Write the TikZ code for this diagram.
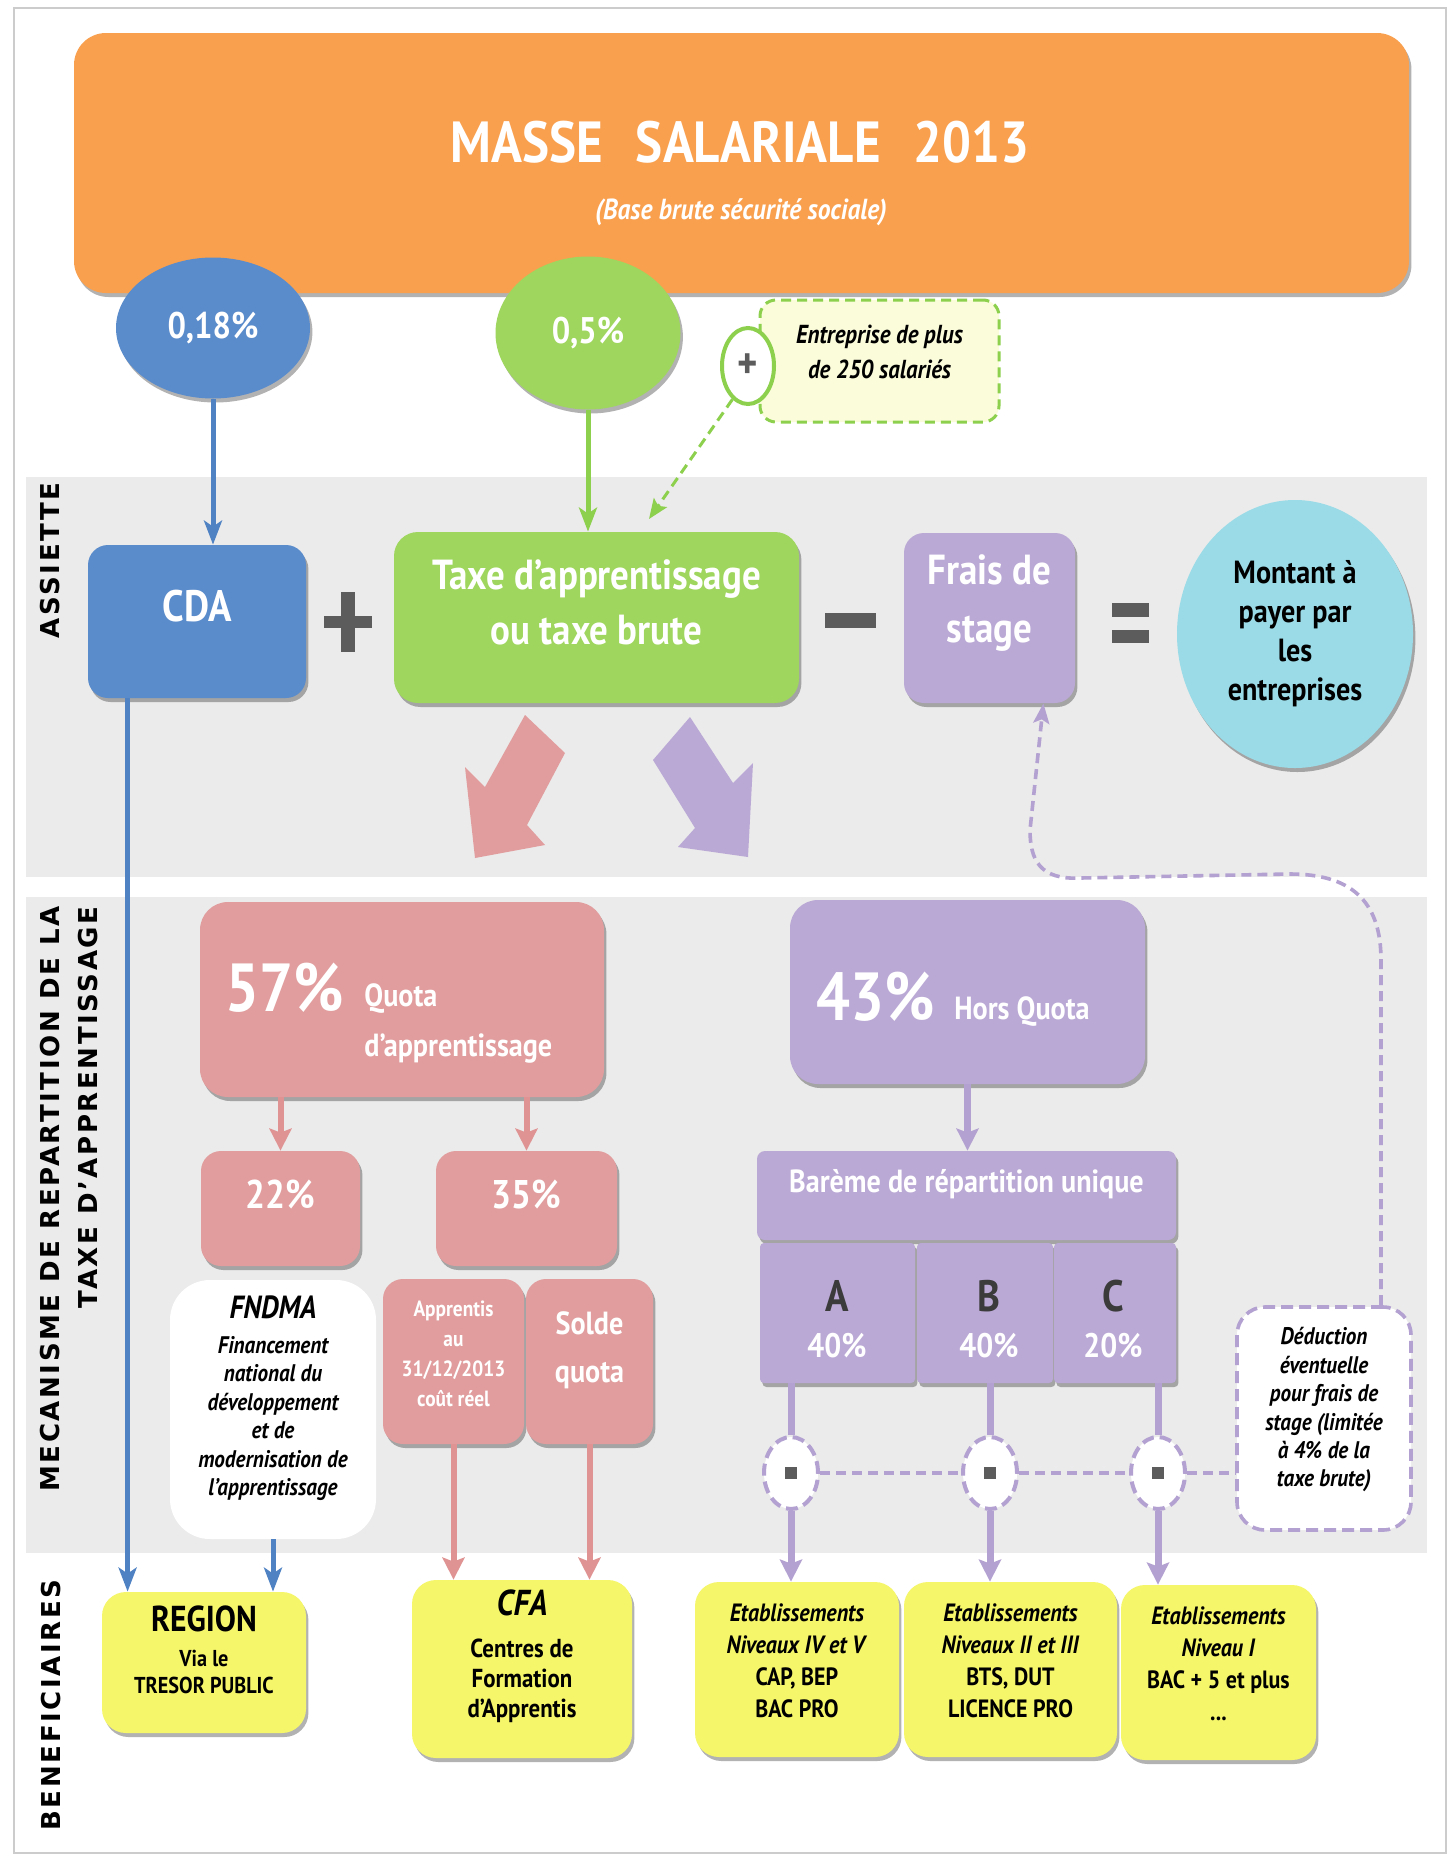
\documentclass[tikz,border=0pt]{standalone}
\usepackage{fontspec}
\setmainfont{PT Sans}[FakeStretch=0.88]
\newfontfamily\labfont{DejaVu Sans}[LetterSpace=10]
\usetikzlibrary{shapes.geometric,shadows,arrows.meta,fit}
\newcommand{\fsz}[2]{\fontsize{#1}{#2}\selectfont}
\definecolor{cOrange}{HTML}{F9A04F}
\definecolor{cBlue}{HTML}{5A8BCB}
\definecolor{cBlueL}{HTML}{4F82C3}
\definecolor{cGreen}{HTML}{9FD65D}
\definecolor{cGreenL}{HTML}{8CD04E}
\definecolor{cPurple}{HTML}{BAA8D5}
\definecolor{cPurpleL}{HTML}{B3A1D1}
\definecolor{cPink}{HTML}{E19D9D}
\definecolor{cPinkL}{HTML}{E09393}
\definecolor{cCyan}{HTML}{9BDBE7}
\definecolor{cYellow}{HTML}{F6F66B}
\definecolor{cBand}{HTML}{EBEBEB}
\definecolor{cPale}{HTML}{FBFCDA}
\definecolor{cSign}{HTML}{5C5C5C}
\definecolor{cDark}{HTML}{3B3B3B}
\tikzset{
  sh/.style={drop shadow={shadow xshift=1.2pt,shadow yshift=-2pt,opacity=0.3,fill=black}},
  bx/.style={rectangle, rounded corners=10pt, inner sep=0pt, align=center, text=white, font=\bfseries, sh},
  ybx/.style={bx, fill=cYellow, text=black, rounded corners=12pt},
  wtxt/.style={inner sep=0pt, text=white},
  lbl/.style={font=\labfont\bfseries\fsz{13}{19}, rotate=90, anchor=east, align=right, inner sep=0pt},
  bluel/.style={draw=cBlueL, line width=2.5pt, -{Stealth[length=12pt,width=9pt,inset=3pt]}},
  greenl/.style={draw=cGreenL, line width=2.5pt, -{Stealth[length=12pt,width=9pt,inset=3pt]}},
  greend/.style={draw=cGreenL, line width=1.5pt, dash pattern=on 5pt off 3pt, -{Stealth[length=10pt,width=8pt,inset=2pt]}},
  pinkl/.style={draw=cPinkL, line width=3pt, -{Stealth[length=11pt,width=11pt,inset=2pt]}},
  purpl/.style={draw=cPurpleL, line width=3.5pt, -{Stealth[length=11pt,width=11pt,inset=2pt]}},
  purpn/.style={draw=cPurpleL, line width=3.5pt},
  purpd/.style={draw=cPurpleL, line width=1.8pt, dash pattern=on 5pt off 3pt},
  mcirc/.style={ellipse, draw=cPurpleL, dash pattern=on 6pt off 3pt, line width=2pt, fill=white, minimum width=27pt, minimum height=36pt, inner sep=0pt, text=cSign},
}
\begin{document}
\begin{tikzpicture}[x=0.5pt,y=-0.5pt]
\useasboundingbox (0,0) rectangle (1453,1858);
\fill[white] (0,0) rectangle (1453,1858);
\draw[gray!40, line width=1pt] (14,8) rectangle (1446,1853);
% bands
\fill[cBand] (26,477) rectangle (1427,877);
\fill[cBand] (26,897) rectangle (1427,1553);
% banner
\node (masse) [bx, fill=cOrange, rounded corners=16pt, fit={(74,33) (1409,293)}] {};
\node (title) [wtxt, font=\bfseries\fsz{29}{29}] at (740,142) {MASSE\hspace{0.35em} SALARIALE\hspace{0.35em} 2013};
\node (subt) [wtxt, font=\bfseries\itshape\fsz{14.5}{14.5}] at (741,212) {(Base brute sécurité sociale)};
% rates
\node (e018) [ellipse, fill=cBlue, sh, minimum width=97pt, minimum height=70.5pt, inner sep=0pt, text=white, font=\bfseries\fsz{18.5}{18.5}] at (213,328) {0,18\%};
\node (e05) [ellipse, fill=cGreen, sh, minimum width=92.5pt, minimum height=76.5pt, inner sep=0pt, text=white, font=\bfseries\fsz{18.5}{18.5}] at (588,333) {0,5\%};
\node (entr) [rectangle, draw=cGreenL, dash pattern=on 5pt off 3pt, line width=1.5pt, fill=cPale, rounded corners=8pt, inner sep=0pt, align=center, font=\bfseries\itshape\fsz{13}{17.5}, fit={(760,300) (999,422)}] {Entreprise de plus\\de 250 salariés};
\node (plus) [ellipse, draw=cGreenL, line width=2pt, fill=white, minimum width=26pt, minimum height=38pt, inner sep=0pt, text=cSign, font=\bfseries\fsz{22}{22}] at (748,366) {+};
% section labels
\node (lab1) [lbl] at (50,482) {ASSIETTE};
\node (lab2) [lbl] at (69,906) {MECANISME DE REPARTITION DE LA\\TAXE D’APPRENTISSAGE};
\node (lab3) [lbl, anchor=center] at (51,1705) {BENEFICIAIRES};
% assiette row
\node (cda) [bx, fill=cBlue, font=\bfseries\fsz{22}{22}, fit={(88,545) (306,698)}] {CDA};
\node (taxe) [bx, fill=cGreen, rounded corners=12pt, font=\bfseries\fsz{21}{27.5}, fit={(394,532) (799,703)}] {Taxe d’apprentissage\\ou taxe brute};
\node (frais) [bx, fill=cPurple, font=\bfseries\fsz{21}{29}, fit={(904,533) (1075,703)}] {Frais de\\stage};
\node (mont) [ellipse, fill=cCyan, sh, minimum width=118pt, minimum height=134pt, inner sep=0pt, align=center, font=\bfseries\fsz{16}{19.5}] at (1295,634) {Montant à\\payer par\\les\\entreprises};
% operators
\fill[cSign] (341,592) rectangle (355,652);
\fill[cSign] (324,616) rectangle (372,628);
\fill[cSign] (825,613) rectangle (876,628);
\fill[cSign] (1112,603) rectangle (1149,617);
\fill[cSign] (1112,630) rectangle (1149,643);
% block arrows
\fill[cPink] (525,715) -- (565,753) -- (527,825) -- (545,845) -- (475,858) -- (465,767) -- (485,787) -- cycle;
\fill[cPurple] (690,717) -- (653,760) -- (695,828) -- (678,847) -- (748,857) -- (753,763) -- (733,783) -- cycle;
% quota
\node (q57) [bx, fill=cPink, rounded corners=14pt, fit={(200,902) (604,1097)}] {};
\node (t57) [wtxt, anchor=west, font=\bfseries\fsz{34}{34}] at (225,988) {57\%};
\node (tq1) [wtxt, anchor=west, font=\bfseries\fsz{16}{16}] at (364,999) {Quota};
\node (tq2) [wtxt, anchor=west, font=\bfseries\fsz{16}{16}] at (364,1049) {d’apprentissage};
\node (p22) [bx, fill=cPink, font=\bfseries\fsz{20}{20}, fit={(201,1151) (360,1266)}] {22\%};
\node (p35) [bx, fill=cPink, font=\bfseries\fsz{20}{20}, fit={(436,1151) (617,1266)}] {35\%};
\node (fndma) [rectangle, rounded corners=20pt, fill=white, inner sep=0pt, align=center, font=\bfseries\itshape\fsz{12}{14.2}, fit={(170,1280) (376,1539)}] {{\fsz{16}{16}FNDMA}\\[3.3pt]Financement\\national du\\développement\\et de\\modernisation de\\l’apprentissage};
\node (app) [bx, fill=cPink, font=\bfseries\fsz{11}{15}, fit={(383,1279) (524,1444)}] {Apprentis\\au\\31/12/2013\\coût réel};
\node (solde) [bx, fill=cPink, font=\bfseries\fsz{16}{24}, fit={(526,1279) (653,1444)}] {Solde\\quota};
% hors quota
\node (q43) [bx, fill=cPurple, rounded corners=14pt, fit={(790,900) (1145,1084)}] {};
\node (t43) [wtxt, anchor=west, font=\bfseries\fsz{34}{34}] at (816,997) {43\%};
\node (thq) [wtxt, anchor=west, font=\bfseries\fsz{16}{16}] at (954,1012) {Hors Quota};
\node (bar) [bx, fill=cPurple, rounded corners=4pt, font=\bfseries\fsz{16}{16}, fit={(757,1151) (1176,1240)}] {Barème de répartition unique};
\node (colA) [bx, fill=cPurple, rounded corners=2pt, fit={(760,1243) (915,1383)}] {};
\node (colB) [bx, fill=cPurple, rounded corners=2pt, fit={(917,1243) (1053,1383)}] {};
\node (colC) [bx, fill=cPurple, rounded corners=2pt, fit={(1054,1243) (1176,1383)}] {};
\node (tA) [inner sep=0pt, text=cDark, font=\bfseries\fsz{22}{22}] at (837,1296) {A};
\node (tB) [inner sep=0pt, text=cDark, font=\bfseries\fsz{22}{22}] at (989,1296) {B};
\node (tC) [inner sep=0pt, text=cDark, font=\bfseries\fsz{22}{22}] at (1113,1296) {C};
\node (vA) [wtxt, font=\bfseries\fsz{17}{17}] at (837,1346) {40\%};
\node (vB) [wtxt, font=\bfseries\fsz{17}{17}] at (989,1346) {40\%};
\node (vC) [wtxt, font=\bfseries\fsz{17}{17}] at (1113,1346) {20\%};
\node (cA) [mcirc] at (791,1473) {\rule{6pt}{6pt}};
\node (cB) [mcirc] at (990,1473) {\rule{6pt}{6pt}};
\node (cC) [mcirc] at (1158,1473) {\rule{6pt}{6pt}};
\node (ded) [rectangle, rounded corners=14pt, draw=cPurpleL, dash pattern=on 6pt off 3pt, line width=1.8pt, fill=white, inner sep=0pt, align=center, font=\bfseries\itshape\fsz{12}{14.2}, fit={(1237,1307) (1411,1530)}] {Déduction\\éventuelle\\pour frais de\\stage (limitée\\à 4\% de la\\taxe brute)};
% beneficiaires
\node (reg) [ybx, font=\bfseries\fsz{11.5}{13.5}, fit={(102,1592) (306,1733)}] {{\fsz{18}{18}REGION}\\[4pt]Via le\\TRESOR PUBLIC};
\node (cfa) [ybx, font=\bfseries\fsz{13}{15}, fit={(412,1580) (632,1758)}] {{\fsz{18}{18}\itshape CFA}\\[6pt]Centres de\\Formation\\d’Apprentis};
\node (et1) [ybx, font=\bfseries\fsz{12.5}{16}, fit={(695,1582) (899,1757)}] {\textit{Etablissements}\\\textit{Niveaux IV et V}\\CAP, BEP\\BAC PRO};
\node (et2) [ybx, font=\bfseries\fsz{12.5}{16}, fit={(904,1582) (1117,1757)}] {\textit{Etablissements}\\\textit{Niveaux II et III}\\BTS, DUT\\LICENCE PRO};
\node (et3) [ybx, font=\bfseries\fsz{12.5}{16}, fit={(1121,1585) (1316,1760)}] {\textit{Etablissements}\\\textit{Niveau I}\\BAC + 5 et plus\\...};
% connectors
\coordinate (cdaout) at ([xshift=20pt]cda.south west);
\coordinate (gdash) at (649,519);
\coordinate (fin) at ([xshift=-16pt]frais.south east);
\coordinate (k1) at (1381,960);
\coordinate (k2) at (1290,874);
\coordinate (k3) at (1080,878);
\coordinate (k4) at (1030,830);
\draw[bluel] (e018.south) -- (e018.south |- cda.north);
\draw[greenl] (e05.south) -- (e05.south |- taxe.north);
\draw[greend] (plus.245) -- (gdash);
\draw[bluel] (cdaout) -- (cdaout |- reg.north);
\draw[bluel] (fndma.south) -- (fndma.south |- reg.north);
\draw[pinkl] (p22.north |- q57.south) -- (p22.north);
\draw[pinkl] (p35.north |- q57.south) -- (p35.north);
\draw[pinkl] (app.south) -- (app.south |- cfa.north);
\draw[pinkl] (solde.south) -- (solde.south |- cfa.north);
\draw[purpl] (q43.south) -- (q43.south |- bar.north);
\draw[purpn] (cA.north |- colA.south) -- (cA.north);
\draw[purpn] (cB.north |- colB.south) -- (cB.north);
\draw[purpn] (cC.north |- colC.south) -- (cC.north);
\draw[purpl] (cA.south) -- (cA.south |- et1.north);
\draw[purpl] (cB.south) -- (cB.south |- et2.north);
\draw[purpl] (cC.south) -- (cC.south |- et3.north);
\draw[purpd] (cA.east) -- (cB.west);
\draw[purpd] (cB.east) -- (cC.west);
\draw[purpd] (cC.east) -- (cC.east -| ded.west);
\draw[purpd, -{Stealth[length=10pt,width=8pt,inset=2pt]}] (k1 |- ded.north) -- (k1) .. controls (1381,900) and (1350,874) .. (k2) -- (k3) .. controls (1040,880) and (1030,860) .. (k4) -- (fin);
\end{tikzpicture}
\end{document}
